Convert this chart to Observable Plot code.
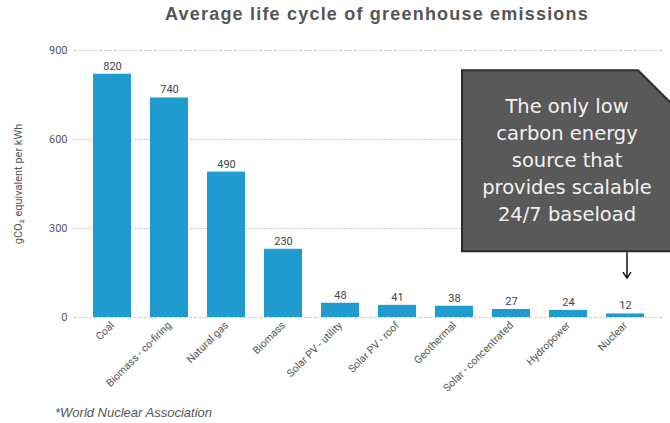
<!DOCTYPE html>
<html>
<head>
<meta charset="utf-8">
<script src="https://cdn.jsdelivr.net/npm/d3@7"></script>
<script src="https://cdn.jsdelivr.net/npm/@observablehq/plot@0.6"></script>
<style>
  html, body { margin: 0; padding: 0; background: #fff; }
  #wrap { width: 670px; height: 423px; position: relative; overflow: hidden; }
  #title { height: 30px; padding-top: 1px; box-sizing: border-box; text-align: center; padding-left: 84px;
    font-family: "Liberation Sans", Arial, sans-serif; font-weight: bold; font-size: 18px; letter-spacing: 1.2px; color: #555; line-height: 27px; }
  #footer { position: absolute; left: 55px; top: 405px; font-family: "Liberation Sans", Arial, sans-serif; font-style: italic; font-size: 13px; color: #555;
    line-height: 16px; }
  #chart svg { display: block; overflow: visible; }
</style>
</head>
<body>
<div id="wrap">
  <div id="title">Average life cycle of greenhouse emissions</div>
  <div id="chart"></div>
  <div id="footer">*World Nuclear Association</div>
</div>
<script>
const categories = ["Coal", "Biomass - co-firing", "Natural gas", "Biomass", "Solar PV - utility", "Solar PV - roof", "Geothermal", "Solar - concentrated", "Hydropower", "Nuclear"];
const values = [820, 740, 490, 230, 48, 41, 38, 27, 24, 12];
const yTicks = [0, 300, 600, 900];
const calloutLines = ["The only low", "carbon energy", "source that", "provides scalable", "24/7 baseload"];
const calloutTop = 832, calloutBottom = 222, arrowTip = 131;

const data = categories.map((c, i) => ({cat: c, val: values[i]}));

const plot = Plot.plot({
  width: 670,
  height: 348,
  marginLeft: 74,
  marginRight: 7,
  marginTop: 20,
  marginBottom: 61,
  style: {fontFamily: "Roboto, sans-serif", fontSize: "10px", color: "#555", background: "transparent", overflow: "visible"},
  x: {domain: categories, padding: 0.33, axis: null},
  y: {domain: [0, 900], label: null, axis: null},
  marks: [
    Plot.ruleY(yTicks, {stroke: "#ccc", strokeDasharray: "3,2"}),
    Plot.axisY(yTicks, {tickSize: 0, tickPadding: 7, fontSize: 11, label: "gCO₂ equivalent per kWh", labelAnchor: "center", labelOffset: 60, labelArrow: "none"}),
    Plot.axisX({tickSize: 0, tickPadding: 6, tickRotate: -45, fontSize: 10.5, label: null}),
    Plot.barY(data, {x: "cat", y: "val", fill: "#1f9bcf"}),
    Plot.text(data, {x: "cat", y: "val", text: d => String(d.val), dy: -8, fill: "#444", fontSize: 11})
  ]
});
document.getElementById("chart").appendChild(plot);

// Callout annotation anchored to scales
(function () {
  const xs = plot.scale("x"), ys = plot.scale("y");
  const bw = xs.bandwidth;
  const cx = xs.apply("Hydropower") + bw / 2 - 1;
  const nx = xs.apply("Nuclear") + bw / 2 + 2;
  const boxTop = ys.apply(calloutTop), boxBottom = ys.apply(calloutBottom), tip = ys.apply(arrowTip);
  const left = cx - 105, right = 675, cut = 32;
  const g = d3.select(plot).append("g");
  g.append("path")
    .attr("d", `M${left},${boxTop}L${right - cut - 5},${boxTop}L${right},${boxTop + cut + 5}L${right},${boxBottom}L${left},${boxBottom}Z`)
    .attr("fill", "#595959").attr("stroke", "#2b2b2b").attr("stroke-width", 2);
  const midY = (boxTop + boxBottom) / 2;
  g.append("text")
    .attr("text-anchor", "middle")
    .attr("font-family", "'DejaVu Sans', sans-serif")
    .attr("font-size", 19.5)
    .attr("fill", "#f2f2f2")
    .selectAll("tspan").data(calloutLines).join("tspan")
    .attr("x", cx)
    .attr("y", (d, i) => midY + (i - 2) * 27)
    .attr("dy", "0.35em")
    .text(d => d);
  g.append("line").attr("x1", nx).attr("x2", nx).attr("y1", boxBottom + 1).attr("y2", tip - 1)
    .attr("stroke", "#111").attr("stroke-width", 1.5);
  g.append("path").attr("d", `M${nx - 4},${tip - 6}L${nx},${tip}L${nx + 4},${tip - 6}`)
    .attr("fill", "none").attr("stroke", "#111").attr("stroke-width", 1.5);
})();
</script>
</body>
</html>
